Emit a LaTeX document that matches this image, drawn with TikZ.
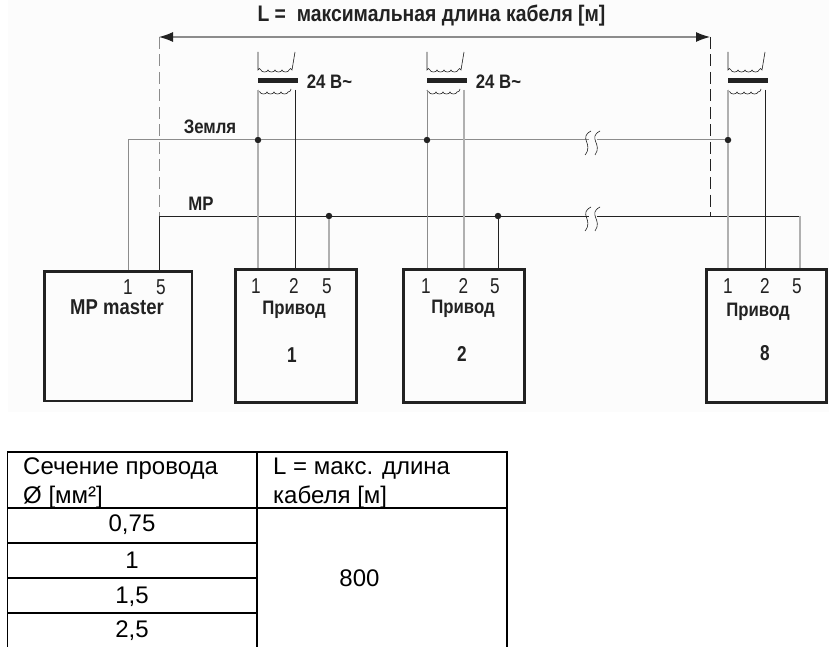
\documentclass[tikz,border=0pt]{standalone}
\usepackage{fontspec}
\setmainfont{Liberation Sans}
\newfontfamily\cond[FakeStretch=0.8]{Liberation Sans}
\newfontfamily\condb[FakeStretch=0.86]{Liberation Sans Bold}
\usetikzlibrary{arrows.meta}
\definecolor{ink}{HTML}{222222}
\definecolor{wiregray}{HTML}{8C8C8C}
\definecolor{wirelight}{HTML}{B0B0B0}
\tikzset{
  x=1pt,y=-1pt,
  box/.style={draw=ink,line width=2.6pt,inner sep=0pt,anchor=north west},
  wire/.style={draw=ink,line width=0.8pt},
  graywire/.style={draw=wiregray,line width=1pt},
  lightwire/.style={draw=wirelight,line width=1.3pt},
  guide/.style={draw=ink,line width=0.8pt,dash pattern=on 12pt off 5.5pt},
  guidegray/.style={draw=wiregray,line width=1pt,dash pattern=on 12pt off 5.5pt},
  dim/.style={draw=wiregray,line width=1.1pt,{Latex[length=14pt,width=10pt,color=ink]}-{Latex[length=14pt,width=10pt,color=ink]}},
  jdot/.style={circle,fill=ink,inner sep=0pt,minimum size=6.5pt},
  lab/.style={font=\condb\fontsize{19.5}{22}\selectfont,text=ink,inner sep=0pt},
  pin/.style={font=\cond\fontsize{21.5}{24}\selectfont,text=ink,inner sep=0pt},
  bignum/.style={font=\cond\bfseries\fontsize{21.5}{24}\selectfont,text=ink,inner sep=0pt},
  cell/.style={font=\fontsize{24}{28}\selectfont,text=black,inner sep=0pt},
  tbl/.style={draw=black,line width=1.3pt},
  coilline/.style={draw=ink,line width=0.6pt},
  coreb/.style={fill=ink,draw=none,minimum width=40pt,minimum height=5pt,inner sep=0pt},
  brk/.style={draw=ink,line width=0.6pt}
}
\newcommand{\xfmr}[2]{% #1 name, #2 left x
  \node[coreb] (#1core) at (#2+19.5,80.5) {};
  \draw[coilline] (#2,52) -- (#2,70) arc[start angle=180,end angle=360,radius=1.5]
    arc[start angle=180,end angle=0,radius=3.5,y radius=2] arc[start angle=180,end angle=0,radius=3.5,y radius=2]
    arc[start angle=180,end angle=0,radius=3.5,y radius=2] arc[start angle=180,end angle=0,radius=3.5,y radius=2]
    arc[start angle=180,end angle=360,radius=1.5] -- (#2+37,52);
  \draw[coilline] (#2,90) arc[start angle=180,end angle=90,radius=2]
    arc[start angle=180,end angle=0,radius=3.5,y radius=2] arc[start angle=180,end angle=0,radius=3.5,y radius=2]
    arc[start angle=180,end angle=0,radius=3.5,y radius=2] arc[start angle=180,end angle=0,radius=3.5,y radius=2]
    arc[start angle=90,end angle=0,radius=3];
}
\newcommand{\brkmark}[2]{% x, y
  \draw[brk] (#1+5,#2-9) .. controls (#1-8,#2-2) and (#1+8,#2+4) .. (#1-1,#2+15);
  \draw[brk] (#1+14,#2-9) .. controls (#1+1,#2-2) and (#1+17,#2+4) .. (#1+9,#2+15);
}
\begin{document}
\begin{tikzpicture}
\useasboundingbox[fill=white] (0,0) rectangle (829,647);
\fill[black!1] (8,0) rectangle (829,412);

% boxes
\node[box,minimum width=147.5pt,minimum height=129.5pt] (mm) at (43,270) {};
\node[box,minimum width=121pt,minimum height=133pt] (d1) at (234,268) {};
\node[box,minimum width=121pt,minimum height=133pt] (d2) at (402,268) {};
\node[box,minimum width=120pt,minimum height=133pt] (d8) at (705,268) {};

% junctions
\node[jdot] (e1) at (258,140) {};
\node[jdot] (e2) at (427,140) {};
\node[jdot] (e3) at (728,140) {};
\node[jdot] (m1) at (329,216) {};
\node[jdot] (m2) at (498,216) {};

% transformers
\xfmr{t1}{258}
\xfmr{t2}{427}
\xfmr{t3}{728}

% coordinates
\coordinate (gA) at (128,140);
\coordinate (gE) at (128,270);
\coordinate (mA) at (159,216);
\coordinate (mE) at (159,270);
\coordinate (mZ) at (800,216);
\coordinate (dimL) at (159,37);
\coordinate (dimR) at (710,37);
\coordinate (dashRb) at (710,216);
\coordinate (t1a) at (258,90);
\coordinate (t1b) at (295,90);
\coordinate (t2a) at (427,90);
\coordinate (t2b) at (464,90);
\coordinate (t3a) at (728,90);
\coordinate (t3b) at (765,90);

% guides and dimension
\draw[guidegray] (dimL) -- (mA);
\draw[guide] (dimR) -- (dashRb);
\draw[dim] (dimL) -- (dimR);

% wires
\draw[graywire] (gE) -- (gA) -- (e1) -- (e2) -- (e3);
\draw[wire] (mE) -- (mA) -- (m1) -- (m2) -- (mZ);
\draw[lightwire] (t1a) -- (e1) -- (258,268);
\draw[wire] (t1b) -- (295,268);
\draw[lightwire] (m1) -- (329,268);
\draw[graywire] (t2a) -- (e2) -- (427,268);
\draw[lightwire] (t2b) -- (464,268);
\draw[wire] (m2) -- (498,268);
\draw[lightwire] (t3a) -- (e3) -- (728,268);
\draw[wire] (t3b) -- (765,268);
\draw[lightwire] (mZ) -- (800,268);

% breaks
\fill[black!1] (589,133) rectangle (597,147);
\fill[black!1] (589,209) rectangle (597,223);
\brkmark{586}{140}
\brkmark{586}{216}

% labels
\node[font=\condb\fontsize{22.5}{25}\selectfont,text=ink,inner sep=0pt] (title) at (431.5,15.5) {L =\ \ максимальная длина кабеля [м]};
\node[lab] (v1) at (329.5,82) {24 В\textasciitilde};
\node[lab] (v2) at (498.5,82) {24 В\textasciitilde};
\node[lab] (earth) at (210,127) {Земля};
\node[lab] (mp) at (201,204) {MP};

\node[pin] at (128,287) {1};
\node[pin] at (161,287) {5};
\node[lab,font=\condb\fontsize{21.5}{24}\selectfont] at (117,307) {MP master};

\node[pin] at (256,286) {1};
\node[pin] at (294,286) {2};
\node[pin] at (327,286) {5};
\node[lab] at (294,310) {Привод};
\node[bignum] at (292,355) {1};

\node[pin] at (426,286) {1};
\node[pin] at (463.5,286) {2};
\node[pin] at (495,286) {5};
\node[lab] at (463,309) {Привод};
\node[bignum] at (462,354) {2};

\node[pin] at (728,286) {1};
\node[pin] at (765,286) {2};
\node[pin] at (797,286) {5};
\node[lab] at (758,312) {Привод};
\node[bignum] at (765,353) {8};

% table
\draw[tbl] (7.5,647) -- (7.5,452) -- (507,452) -- (507,647);
\draw[tbl] (257,452) -- (257,647);
\draw[tbl] (7.5,508) -- (507,508);
\draw[tbl] (7.5,543) -- (257,543);
\draw[tbl] (7.5,578) -- (257,578);
\draw[tbl] (7.5,613) -- (257,613);

\node[cell,anchor=base west] at (23,474) {Сечение провода};
\node[cell,anchor=base west] at (23,503) {Ø [мм²]};
\node[cell,anchor=base west] at (273,474) {L = макс. длина};
\node[cell,anchor=base west] at (273,503) {кабеля [м]};
\node[cell,anchor=base] at (132,531) {0,75};
\node[cell,anchor=base] at (132,568) {1};
\node[cell,anchor=base] at (132,603) {1,5};
\node[cell,anchor=base] at (132,637) {2,5};
\node[cell,anchor=base] at (359.5,586) {800};
\end{tikzpicture}
\end{document}
